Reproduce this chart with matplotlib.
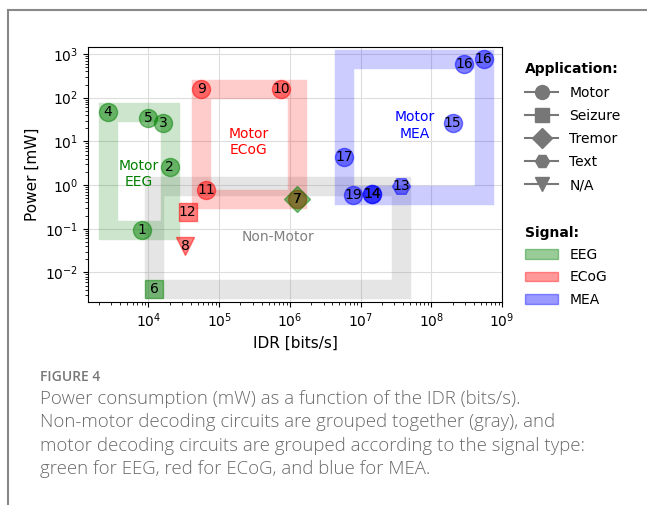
import numpy as np
from matplotlib import pyplot as plt
from matplotlib.patches import Rectangle, Patch
from matplotlib.lines import Line2D

# motor designs (circles), grouped by signal type
eeg_id = ['1', '2', '3', '4', '5']
eeg_x = [8.1e3, 2.0e4, 1.6e4, 2.65e3, 1.0e4]
eeg_y = [0.093, 2.6, 26, 48, 35]

ecog_id = ['9', '10', '11', '7']
ecog_x = [5.6e4, 7.5e5, 6.6e4, 1.27e6]
ecog_y = [155, 155, 0.77, 0.47]

mea_id = ['14', '14', '15', '16', '16', '17', '19']
mea_x = [1.45e7, 1.45e7, 2.0e8, 2.9e8, 5.5e8, 5.9e6, 7.9e6]
mea_y = [0.64, 0.64, 26, 580, 780, 4.4, 0.58]

# non-motor designs
nm_id = ['6', '12', '7', '8', '13']
nm_app = ['Seizure', 'Seizure', 'Tremor', 'N/A', 'Text']
nm_sig = ['EEG', 'ECoG', 'EEG', 'ECoG', 'MEA']
nm_x = [1.2e4, 3.6e4, 1.27e6, 3.3e4, 3.7e7]
nm_y = [0.0042, 0.245, 0.47, 0.04, 0.93]

applications = ['Motor', 'Seizure', 'Tremor', 'Text', 'N/A']
app_marker = {'Motor': 'o', 'Seizure': 's', 'Tremor': 'D', 'Text': 'H', 'N/A': 'v'}
signals = ['EEG', 'ECoG', 'MEA']
sig_color = {'EEG': 'green', 'ECoG': 'red', 'MEA': 'blue'}

x_major = [1e4, 1e5, 1e6, 1e7, 1e8, 1e9]
y_major = [1e-2, 1e-1, 1e0, 1e1, 1e2, 1e3]

fig = plt.figure(figsize=(6.47, 5.05), dpi=100)
ax = fig.add_axes([0.136, 0.402, 0.640, 0.505])
ax.set_xscale('log')
ax.set_yscale('log')
ax.set_xticks(x_major)
ax.set_yticks(y_major)
ax.set_xlim(1.4e3, 1e9)
ax.set_ylim(2.1e-3, 1.45e3)
ax.grid(True, which='major', color='#dddddd', linewidth=0.8)
ax.set_axisbelow(True)


def group_box(xs, ys, color):
    x0, x1 = min(xs), max(xs)
    y0, y1 = min(ys), max(ys)
    rect = Rectangle((x0, y0), x1 - x0, y1 - y0, fill=False, edgecolor=color,
                     alpha=0.2, linewidth=14, joinstyle='miter', zorder=1)
    ax.add_patch(rect)


group_box(nm_x, nm_y, 'gray')
group_box(eeg_x, eeg_y, 'green')
group_box(ecog_x, ecog_y, 'red')
group_box(mea_x, mea_y, 'blue')

ms = 13
for ids, xs, ys, sig in [(eeg_id, eeg_x, eeg_y, 'EEG'),
                         (ecog_id, ecog_x, ecog_y, 'ECoG'),
                         (mea_id, mea_x, mea_y, 'MEA')]:
    ax.plot(xs, ys, 'o', color=sig_color[sig], alpha=0.5, ms=ms, zorder=3)

for i in range(len(nm_id)):
    ax.plot(nm_x[i], nm_y[i], app_marker[nm_app[i]], color=sig_color[nm_sig[i]],
            alpha=0.5, ms=ms, zorder=3)

# numbers on the markers
for ids, xs, ys in [(eeg_id, eeg_x, eeg_y), (ecog_id, ecog_x, ecog_y),
                    (mea_id, mea_x, mea_y), (nm_id, nm_x, nm_y)]:
    for t, x, y in zip(ids, xs, ys):
        ax.text(x, y, t, ha='center', va='center', fontsize=10, zorder=4)

ax.text(7.2e3, 1.76, 'Motor\nEEG', color='green', ha='center', va='center', fontsize=10)
ax.text(2.6e5, 9.5, 'Motor\nECoG', color='red', ha='center', va='center', fontsize=10)
ax.text(5.8e7, 23, 'Motor\nMEA', color='blue', ha='center', va='center', fontsize=10)
ax.text(6.9e5, 0.063, 'Non-Motor', color='gray', ha='center', va='center', fontsize=10)

ax.set_xlabel('IDR [bits/s]', fontsize=11)
ax.set_ylabel('Power [mW]', fontsize=11)
ax.tick_params(labelsize=10)

app_handles = [Line2D([], [], color='#777777', marker=app_marker[a], ms=10, lw=1.5)
               for a in applications]
leg1 = fig.legend(app_handles, applications, loc='upper left',
                  bbox_to_anchor=(0.792, 0.901), frameon=False, fontsize=10,
                  title='Application:', title_fontproperties={'weight': 'bold', 'size': 10},
                  alignment='left', handlelength=2.4, labelspacing=0.66)
sig_handles = [Patch(facecolor=sig_color[s], edgecolor=sig_color[s], alpha=0.4)
               for s in signals]
leg2 = fig.legend(sig_handles, signals, loc='upper left',
                  bbox_to_anchor=(0.792, 0.578), frameon=False, fontsize=10,
                  title='Signal:', title_fontproperties={'weight': 'bold', 'size': 10},
                  alignment='left', handlelength=2.4, labelspacing=0.6)

# page frame and caption
fig.add_artist(Line2D([8 / 647, 8 / 647], [0, 1 - 10 / 505], color='#888888', lw=1.5,
                      transform=fig.transFigure))
fig.add_artist(Line2D([8 / 647, 1], [1 - 10 / 505, 1 - 10 / 505], color='#888888', lw=1.5,
                      transform=fig.transFigure))
fig.text(40 / 647, 1 - 377 / 505, 'FIGURE 4', color='#777777', fontsize=10,
         family='Open Sans', weight='semibold', va='center')
caption = ('Power consumption (mW) as a function of the IDR (bits/s).\n'
           'Non-motor decoding circuits are grouped together (gray), and\n'
           'motor decoding circuits are grouped according to the signal type:\n'
           'green for EEG, red for ECoG, and blue for MEA.')
fig.text(40 / 647, 1 - 390 / 505, caption, color='#6a6a6a', fontsize=13.4,
         family='Open Sans', weight='light', va='top', linespacing=1.38)

fig.savefig('out.png', dpi=100)
